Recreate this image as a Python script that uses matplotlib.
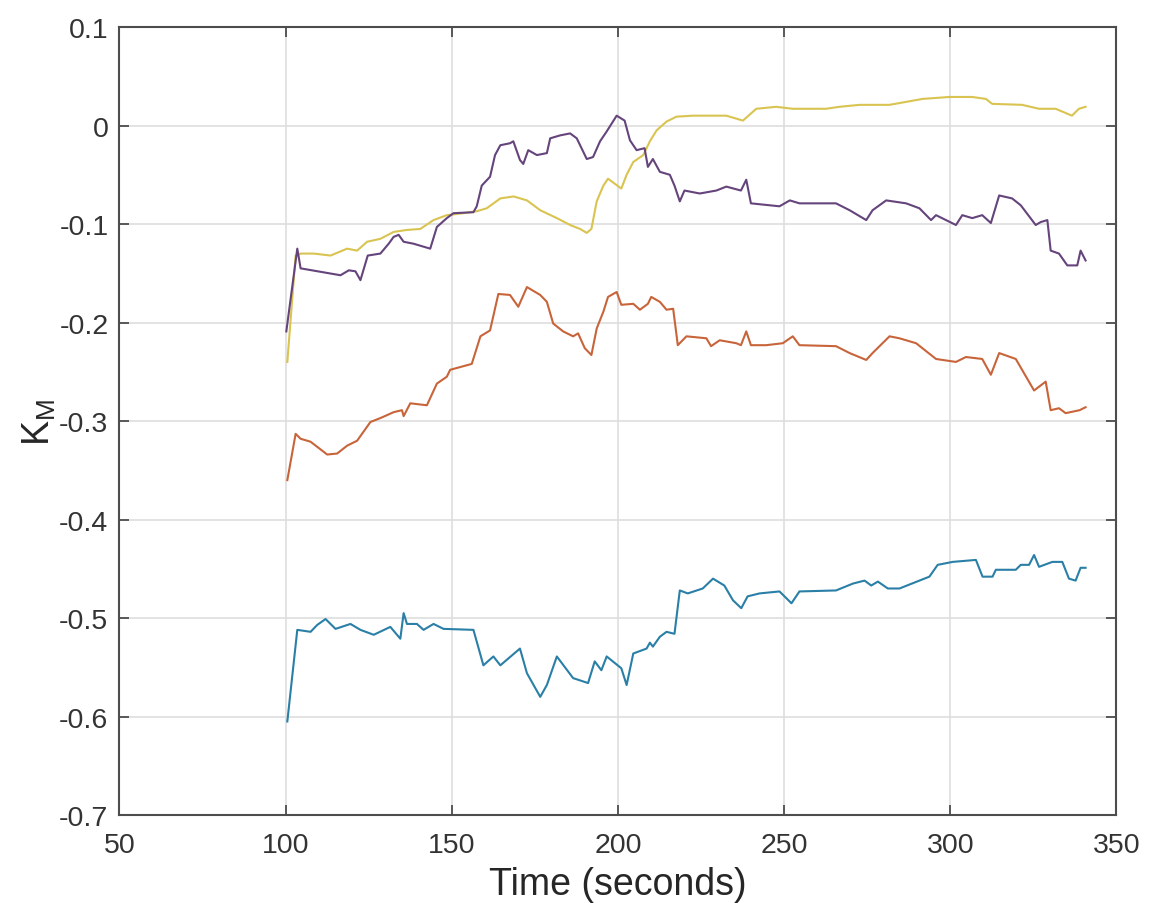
import matplotlib.pyplot as plt
import numpy as np

# series (time in s, K_M value)
t_blue = [100.5, 103.5, 107.5, 109.5, 112, 115, 119.5, 122.5, 126.5, 131.5, 134.5, 135.5,
          136.5, 139.5, 141.5, 144.5, 147.5, 156.5, 159.5, 162.5, 164.6, 170.5, 172.6,
          176.6, 178.6, 181.6, 186.5, 191, 193, 195, 196.6, 201, 202.6, 204.6, 208.6,
          209.6, 210.5, 212.6, 214.6, 217, 218.6, 221, 225.5, 228.6, 232, 234.6, 237.1,
          239, 242.6, 248.6, 252.2, 254.6, 265.6, 270.7, 274.2, 276.2, 278.2, 281.2,
          284.7, 290.7, 293.7, 296.2, 300.7, 307.7, 309.7, 312.7, 313.7, 319.7, 321.2,
          323.7, 325.2, 326.7, 330.7, 333.7, 335.7, 337.7, 339.2, 340.7]
k_blue = [-0.605, -0.512, -0.514, -0.507, -0.501, -0.511, -0.506, -0.512, -0.517, -0.509,
          -0.521, -0.495, -0.506, -0.506, -0.512, -0.506, -0.511, -0.512, -0.548, -0.539,
          -0.548, -0.531, -0.556, -0.580, -0.568, -0.539, -0.561, -0.566, -0.544, -0.553,
          -0.539, -0.551, -0.568, -0.536, -0.531, -0.525, -0.529, -0.519, -0.514, -0.516,
          -0.472, -0.475, -0.470, -0.460, -0.467, -0.482, -0.490, -0.478, -0.475, -0.473,
          -0.485, -0.473, -0.472, -0.465, -0.462, -0.467, -0.463, -0.470, -0.470, -0.462,
          -0.458, -0.446, -0.443, -0.441, -0.458, -0.458, -0.451, -0.451, -0.446, -0.446,
          -0.436, -0.448, -0.443, -0.443, -0.460, -0.462, -0.449, -0.449]

t_orange = [100.5, 103, 104.5, 107.5, 112.5, 115.5, 118.5, 121.5, 125.5, 128.5, 132.5, 135,
            135.5, 137.5, 142.5, 145.5, 148.5, 149.5, 156, 158.6, 161.5, 164, 167.5, 170,
            172.6, 176.6, 178.6, 180.5, 183.5, 186.5, 188, 190, 192, 193.6, 195.6, 197,
            199.6, 201, 204.6, 206.6, 209, 210, 212.6, 214.6, 216.6, 218, 220.6, 226.6,
            228, 230.6, 235.6, 237, 238.6, 240, 244.6, 249.6, 252.6, 254.6, 265.6, 269.7,
            274.7, 276.6, 281.7, 284.7, 289.7, 295.7, 301.7, 304.7, 309.6, 312.2, 314.7,
            319.7, 325.2, 328.7, 330.2, 332.7, 334.7, 338.9, 340.7]
k_orange = [-0.360, -0.313, -0.318, -0.321, -0.334, -0.333, -0.325, -0.320, -0.301, -0.297,
            -0.291, -0.289, -0.295, -0.282, -0.284, -0.262, -0.255, -0.248, -0.242, -0.214,
            -0.208, -0.171, -0.172, -0.184, -0.164, -0.172, -0.179, -0.201, -0.209, -0.214,
            -0.211, -0.226, -0.233, -0.206, -0.189, -0.174, -0.169, -0.182, -0.181, -0.187,
            -0.181, -0.174, -0.179, -0.187, -0.186, -0.223, -0.214, -0.216, -0.224, -0.218,
            -0.221, -0.223, -0.209, -0.223, -0.223, -0.221, -0.214, -0.223, -0.224, -0.231,
            -0.238, -0.231, -0.214, -0.216, -0.221, -0.237, -0.240, -0.235, -0.237, -0.253,
            -0.231, -0.237, -0.269, -0.260, -0.289, -0.287, -0.292, -0.289, -0.286]

t_yellow = [100.5, 103, 104.5, 108.5, 113.5, 118.5, 121.5, 124.5, 128.5, 132.5, 136.5,
            140.5, 144.5, 148.5, 153.5, 157.5, 160.5, 164.6, 168.6, 172.6, 176.6, 181.6,
            185.6, 188.6, 190.6, 192, 193.6, 195.6, 197, 201, 202.6, 204.6, 207.6, 209.6,
            211.6, 214.6, 217.6, 222.6, 227.6, 232.6, 237.6, 241.6, 247.6, 252.6, 262.6,
            266.6, 272.7, 281.7, 291.6, 299.7, 306.6, 310.7, 312.6, 321.6, 326.7, 331.7,
            336.6, 338.7, 340.7]
k_yellow = [-0.240, -0.132, -0.130, -0.130, -0.132, -0.125, -0.127, -0.118, -0.115, -0.108,
            -0.106, -0.105, -0.096, -0.091, -0.089, -0.087, -0.084, -0.074, -0.072, -0.076,
            -0.086, -0.094, -0.101, -0.105, -0.109, -0.105, -0.077, -0.061, -0.054, -0.064,
            -0.050, -0.037, -0.030, -0.016, -0.005, 0.004, 0.009, 0.010, 0.010, 0.010,
            0.005, 0.017, 0.019, 0.017, 0.017, 0.019, 0.021, 0.021, 0.027, 0.029, 0.029,
            0.027, 0.022, 0.021, 0.017, 0.017, 0.010, 0.017, 0.019]

t_purple = [100.2, 103.5, 104.5, 116.5, 119, 121, 122.5, 124.7, 128.5, 131, 132.5, 134,
            135.5, 138.5, 143.5, 145.5, 148.5, 150.5, 156.5, 157.5, 159, 161.5, 163, 164.6,
            167.5, 168.5, 170.5, 171.5, 173, 175.6, 178.6, 179.6, 182.6, 185.6, 187.6,
            190.6, 192.5, 194.6, 196.6, 199.6, 202, 203.6, 205.6, 208, 209, 210.5, 212.6,
            215.6, 217, 218.6, 220, 224.6, 229.6, 232.6, 237, 238.6, 240, 248.6, 251.7,
            254.6, 265.6, 269.7, 274.7, 276.6, 280.7, 286.7, 290.7, 294.2, 295.7, 301.7,
            303.6, 306.6, 309.6, 312.2, 314.7, 318.6, 321.2, 325.7, 327.2, 329.2, 330.2,
            332.7, 335.2, 338.2, 339.2, 340.7]
k_purple = [-0.209, -0.125, -0.145, -0.152, -0.147, -0.148, -0.157, -0.132, -0.130, -0.120,
            -0.113, -0.111, -0.118, -0.120, -0.125, -0.103, -0.094, -0.089, -0.088, -0.082,
            -0.061, -0.052, -0.030, -0.020, -0.018, -0.016, -0.035, -0.039, -0.025, -0.030,
            -0.028, -0.013, -0.010, -0.008, -0.013, -0.034, -0.032, -0.016, -0.006, 0.010,
            0.005, -0.015, -0.025, -0.023, -0.042, -0.034, -0.047, -0.050, -0.061, -0.077,
            -0.066, -0.069, -0.066, -0.062, -0.066, -0.055, -0.079, -0.082, -0.076, -0.079,
            -0.079, -0.086, -0.096, -0.086, -0.076, -0.079, -0.084, -0.096, -0.091, -0.101,
            -0.091, -0.094, -0.091, -0.099, -0.071, -0.074, -0.081, -0.101, -0.098, -0.096,
            -0.127, -0.130, -0.142, -0.142, -0.127, -0.137]

plt.rcParams['font.family'] = ['Liberation Sans', 'DejaVu Sans']

fig = plt.figure(figsize=(11.49, 9.04), dpi=100)
ax = fig.add_axes([0.1040, 0.0973, 0.8677, 0.8717])

ax.plot(t_blue, k_blue, color='#2a7fa6', lw=1.5)
ax.plot(t_orange, k_orange, color='#c8643a', lw=1.5)
ax.plot(t_yellow, k_yellow, color='#d9c451', lw=1.5)
ax.plot(t_purple, k_purple, color='#65447c', lw=1.5)

ax.set_xlim(50, 350)
ax.set_ylim(-0.7, 0.1)
ax.set_xticks(np.arange(50, 351, 50))
ax.set_yticks(np.round(np.arange(-0.7, 0.11, 0.1), 1))
ax.set_yticklabels(['-0.7', '-0.6', '-0.5', '-0.4', '-0.3', '-0.2', '-0.1', '0', '0.1'])

ax.grid(True, color='#dedede', lw=1.2)
ax.set_axisbelow(True)
for s in ax.spines.values():
    s.set_color('#4d4d4d')
    s.set_linewidth(1.5)
ax.tick_params(direction='in', length=7, width=1.3, colors='#4d4d4d',
               labelcolor='#333333', labelsize=20.5, top=True, right=True)
ax.tick_params(axis='x', pad=12)
ax.tick_params(axis='y', pad=8)

ax.set_xlabel('Time (seconds)', fontsize=27, color='#262626', labelpad=6)
ax.set_ylabel(r'K$_\mathregular{M}$', fontsize=27, color='#262626', labelpad=1)

fig.savefig('out.png', dpi=100)
